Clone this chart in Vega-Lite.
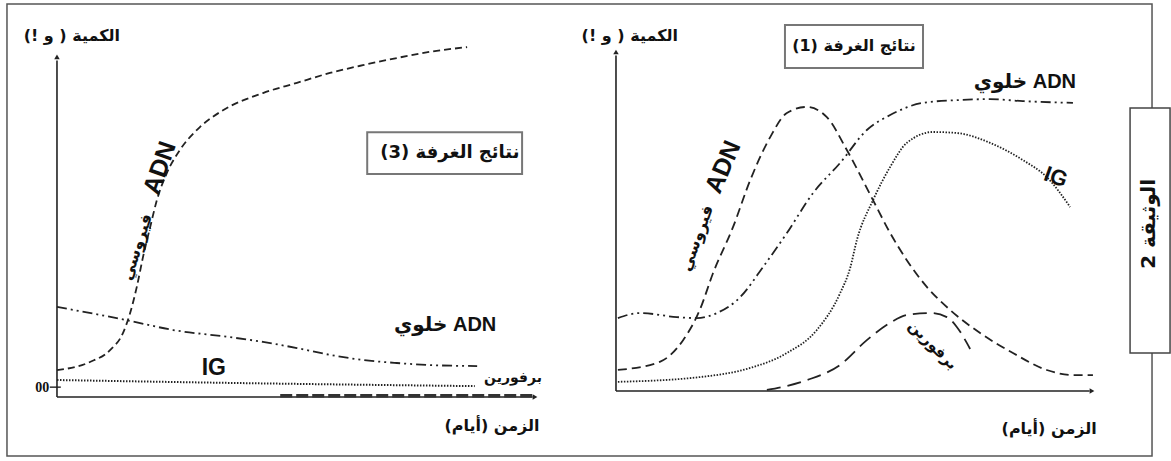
{
"$schema": "https://vega.github.io/schema/vega-lite/v6.json",
"width": 1171, "height": 461, "padding": 0, "autosize": {"type": "none"},
"background": "white",
"config": {"view": {"stroke": null}},
"datasets": {"curves": [
{"panel":"L","series":"viral","t":0,"q":7.9},{"panel":"L","series":"viral","t":6.9,"q":10.3},{"panel":"L","series":"viral","t":11.1,"q":13.8},{"panel":"L","series":"viral","t":13.8,"q":18.8},{"panel":"L","series":"viral","t":15.3,"q":24.7},{"panel":"L","series":"viral","t":16.7,"q":32.4},{"panel":"L","series":"viral","t":18.0,"q":41.2},{"panel":"L","series":"viral","t":19.5,"q":50.0},{"panel":"L","series":"viral","t":20.9,"q":57.9},{"panel":"L","series":"viral","t":23.0,"q":65.9},{"panel":"L","series":"viral","t":25.7,"q":72.6},{"panel":"L","series":"viral","t":29.9,"q":79.4},{"panel":"L","series":"viral","t":34.1,"q":83.8},{"panel":"L","series":"viral","t":43.1,"q":89.4},{"panel":"L","series":"viral","t":50.2,"q":92.4},{"panel":"L","series":"viral","t":57.1,"q":95.3},{"panel":"L","series":"viral","t":64.0,"q":97.6},{"panel":"L","series":"viral","t":71.1,"q":99.7},{"panel":"L","series":"viral","t":78.0,"q":101.5},{"panel":"L","series":"viral","t":85.8,"q":102.9},
{"panel":"L","series":"cell","t":0,"q":26.5},{"panel":"L","series":"cell","t":14.6,"q":22.6},{"panel":"L","series":"cell","t":24.3,"q":19.7},{"panel":"L","series":"cell","t":36.2,"q":17.6},{"panel":"L","series":"cell","t":43.1,"q":16.2},{"panel":"L","series":"cell","t":50.2,"q":14.4},{"panel":"L","series":"cell","t":57.1,"q":12.4},{"panel":"L","series":"cell","t":64.0,"q":10.9},{"panel":"L","series":"cell","t":71.1,"q":10.0},{"panel":"L","series":"cell","t":78.0,"q":9.4},{"panel":"L","series":"cell","t":87.9,"q":9.1},
{"panel":"L","series":"IG","t":0,"q":5.0},{"panel":"L","series":"IG","t":38.3,"q":4.1},{"panel":"L","series":"IG","t":87.4,"q":3.2},
{"panel":"L","series":"perf","t":46.7,"q":0.4},{"panel":"L","series":"perf","t":99.4,"q":0.4},
{"panel":"R","series":"viral","t":0.4,"q":6.2},{"panel":"R","series":"viral","t":9.2,"q":8.6},{"panel":"R","series":"viral","t":14.1,"q":15.0},{"panel":"R","series":"viral","t":17.6,"q":23.9},{"panel":"R","series":"viral","t":20.4,"q":34.8},{"panel":"R","series":"viral","t":24.6,"q":48.4},{"panel":"R","series":"viral","t":28.2,"q":62.2},{"panel":"R","series":"viral","t":32.4,"q":74.9},{"panel":"R","series":"viral","t":35.9,"q":82.0},{"panel":"R","series":"viral","t":40.1,"q":83.8},{"panel":"R","series":"viral","t":44.3,"q":80.8},{"panel":"R","series":"viral","t":48.5,"q":71.1},{"panel":"R","series":"viral","t":54.0,"q":56.3},{"panel":"R","series":"viral","t":57.6,"q":46.6},{"panel":"R","series":"viral","t":61.1,"q":38.6},{"panel":"R","series":"viral","t":65.3,"q":30.7},{"panel":"R","series":"viral","t":70.2,"q":23.9},{"panel":"R","series":"viral","t":76.5,"q":17.1},{"panel":"R","series":"viral","t":83.4,"q":11.2},{"panel":"R","series":"viral","t":90.5,"q":6.2},{"panel":"R","series":"viral","t":96.0,"q":4.7},{"panel":"R","series":"viral","t":100.2,"q":4.7},
{"panel":"R","series":"cell","t":0.4,"q":21.5},{"panel":"R","series":"cell","t":5.0,"q":23.0},{"panel":"R","series":"cell","t":12.8,"q":21.8},{"panel":"R","series":"cell","t":17.0,"q":21.5},{"panel":"R","series":"cell","t":21.2,"q":23.0},{"panel":"R","series":"cell","t":26.1,"q":27.7},{"panel":"R","series":"cell","t":30.9,"q":36.6},{"panel":"R","series":"cell","t":35.9,"q":46.6},{"panel":"R","series":"cell","t":41.4,"q":58.4},{"panel":"R","series":"cell","t":47.1,"q":67.3},{"panel":"R","series":"cell","t":52.7,"q":77.0},{"panel":"R","series":"cell","t":57.6,"q":81.4},{"panel":"R","series":"cell","t":64.5,"q":85.0},{"panel":"R","series":"cell","t":71.6,"q":85.8},{"panel":"R","series":"cell","t":78.6,"q":86.1},{"panel":"R","series":"cell","t":85.5,"q":85.5},{"panel":"R","series":"cell","t":96.0,"q":85.0},
{"panel":"R","series":"IG","t":0.4,"q":2.7},{"panel":"R","series":"IG","t":17.6,"q":4.1},{"panel":"R","series":"IG","t":28.2,"q":6.8},{"panel":"R","series":"IG","t":35.9,"q":11.2},{"panel":"R","series":"IG","t":42.2,"q":18.0},{"panel":"R","series":"IG","t":47.1,"q":28.9},{"panel":"R","series":"IG","t":49.2,"q":36.3},{"panel":"R","series":"IG","t":50.6,"q":44.5},{"panel":"R","series":"IG","t":54.0,"q":56.3},{"panel":"R","series":"IG","t":57.6,"q":66.1},{"panel":"R","series":"IG","t":61.1,"q":73.2},{"panel":"R","series":"IG","t":66.6,"q":76.4},{"panel":"R","series":"IG","t":71.6,"q":76.1},{"panel":"R","series":"IG","t":78.6,"q":73.2},{"panel":"R","series":"IG","t":85.5,"q":68.1},{"panel":"R","series":"IG","t":90.5,"q":63.1},{"panel":"R","series":"IG","t":95.4,"q":54.3},
{"panel":"R","series":"perf","t":31.7,"q":0.3},{"panel":"R","series":"perf","t":40.1,"q":3.2},{"panel":"R","series":"perf","t":47.1,"q":7.7},{"panel":"R","series":"perf","t":52.7,"q":15.0},{"panel":"R","series":"perf","t":57.6,"q":20.1},{"panel":"R","series":"perf","t":61.1,"q":22.4},{"panel":"R","series":"perf","t":66.0,"q":23.0},{"panel":"R","series":"perf","t":69.5,"q":21.8},{"panel":"R","series":"perf","t":71.6,"q":18.9},{"panel":"R","series":"perf","t":73.7,"q":14.2},{"panel":"R","series":"perf","t":74.4,"q":12.4}
]},
"layer": [
{
"layer": [
{"data":{"values":[{}]},"mark":{"type":"rect","fill":"transparent","stroke":"#555","strokeWidth":1.5},
 "encoding":{"x":{"datum":-10.46,"type":"quantitative","scale":{"domain":[-11.92,233.05],"nice":false,"zero":false},"axis":null},"x2":{"datum":229.08},
 "y":{"datum":115.6,"type":"quantitative","scale":{"domain":[-18.82,116.76],"nice":false,"zero":false},"axis":null},"y2":{"datum":-17.35}}},
{"data":{"values":[{}]},"mark":{"type":"rule","stroke":"#222","strokeWidth":1.6},
 "encoding":{"x":{"datum":0,"type":"quantitative","scale":{"domain":[-11.92,233.05],"nice":false,"zero":false},"axis":null},
 "y":{"datum":0,"type":"quantitative","scale":{"domain":[-18.82,116.76],"nice":false,"zero":false},"axis":null},"y2":{"datum":99}}},
{"data":{"values":[{}]},"mark":{"type":"rule","stroke":"#222","strokeWidth":1.6},
 "encoding":{"x":{"datum":0,"type":"quantitative","scale":{"domain":[-11.92,233.05],"nice":false,"zero":false},"axis":null},"x2":{"datum":99.5},
 "y":{"datum":0,"type":"quantitative","scale":{"domain":[-18.82,116.76],"nice":false,"zero":false},"axis":null}}},
{"data":{"values":[{}]},"mark":{"type":"rule","stroke":"#222","strokeWidth":1.4},
 "encoding":{"x":{"datum":-1.5,"type":"quantitative","scale":{"domain":[-11.92,233.05],"nice":false,"zero":false},"axis":null},"x2":{"datum":0.8},
 "y":{"datum":2.9,"type":"quantitative","scale":{"domain":[-18.82,116.76],"nice":false,"zero":false},"axis":null}}},
{"data":{"values":[{}]},"mark":{"type":"point","shape":"triangle-up","filled":true,"size":30,"color":"#222","opacity":1},
 "encoding":{"x":{"datum":0,"type":"quantitative","scale":{"domain":[-11.92,233.05],"nice":false,"zero":false},"axis":null},
 "y":{"datum":100,"type":"quantitative","scale":{"domain":[-18.82,116.76],"nice":false,"zero":false},"axis":null}}},
{"data":{"values":[{}]},"mark":{"type":"point","shape":"triangle-right","filled":true,"size":30,"color":"#222","opacity":1},
 "encoding":{"x":{"datum":100,"type":"quantitative","scale":{"domain":[-11.92,233.05],"nice":false,"zero":false},"axis":null},
 "y":{"datum":0,"type":"quantitative","scale":{"domain":[-18.82,116.76],"nice":false,"zero":false},"axis":null}}},
{"data":{"name":"curves"},"transform":[{"filter":"datum.panel == 'L' && datum.series == 'perf'"}],
 "mark":{"type":"line","stroke":"#333","strokeWidth":3.5,"strokeDash":[12,4]},
 "encoding":{"x":{"field":"t","type":"quantitative","scale":{"domain":[-11.92,233.05],"nice":false,"zero":false},"axis":null},
 "y":{"field":"q","type":"quantitative","scale":{"domain":[-18.82,116.76],"nice":false,"zero":false},"axis":null}}},
{"data":{"name":"curves"},"transform":[{"filter":"datum.panel == 'L' && datum.series == 'viral'"}],
 "mark":{"type":"line","interpolate":"monotone","stroke":"#222","strokeWidth":1.8,"strokeDash":[7,4]},
 "encoding":{"x":{"field":"t","type":"quantitative","scale":{"domain":[-11.92,233.05],"nice":false,"zero":false},"axis":null},
 "y":{"field":"q","type":"quantitative","scale":{"domain":[-18.82,116.76],"nice":false,"zero":false},"axis":null}}},
{"data":{"name":"curves"},"transform":[{"filter":"datum.panel == 'L' && datum.series == 'cell'"}],
 "mark":{"type":"line","interpolate":"monotone","stroke":"#222","strokeWidth":1.8,"strokeDash":[10,4,2,4,2,4]},
 "encoding":{"x":{"field":"t","type":"quantitative","scale":{"domain":[-11.92,233.05],"nice":false,"zero":false},"axis":null},
 "y":{"field":"q","type":"quantitative","scale":{"domain":[-18.82,116.76],"nice":false,"zero":false},"axis":null}}},
{"data":{"name":"curves"},"transform":[{"filter":"datum.panel == 'L' && datum.series == 'IG'"}],
 "mark":{"type":"line","interpolate":"monotone","stroke":"#222","strokeWidth":2,"strokeDash":[1.5,1.5]},
 "encoding":{"x":{"field":"t","type":"quantitative","scale":{"domain":[-11.92,233.05],"nice":false,"zero":false},"axis":null},
 "y":{"field":"q","type":"quantitative","scale":{"domain":[-18.82,116.76],"nice":false,"zero":false},"axis":null}}},
{"data":{"values":[{}]},"mark":{"type":"rect","fill":"white","stroke":"#777","strokeWidth":2},
 "encoding":{"x":{"datum":64.9,"type":"quantitative","scale":{"domain":[-11.92,233.05],"nice":false,"zero":false},"axis":null},"x2":{"datum":97.3},
 "y":{"datum":77.9,"type":"quantitative","scale":{"domain":[-18.82,116.76],"nice":false,"zero":false},"axis":null},"y2":{"datum":65.6}}},
{"data":{"values":[{}]},"mark":{"type":"text","text":"\u202bنتائج الغرفة (3)\u202c","font":"DejaVu Sans","fontWeight":"bold","fontSize":18,"align":"center","baseline":"middle","color":"#111"},
 "encoding":{"x":{"datum":82.2,"type":"quantitative","scale":{"domain":[-11.92,233.05],"nice":false,"zero":false},"axis":null},
 "y":{"datum":71.8,"type":"quantitative","scale":{"domain":[-18.82,116.76],"nice":false,"zero":false},"axis":null}}},
{"data":{"values":[{}]},"mark":{"type":"text","text":"\u202bالكمية ( و !)\u202c","font":"DejaVu Sans","fontWeight":"bold","fontSize":16,"align":"center","baseline":"middle","color":"#111"},
 "encoding":{"x":{"datum":3.1,"type":"quantitative","scale":{"domain":[-11.92,233.05],"nice":false,"zero":false},"axis":null},
 "y":{"datum":106.2,"type":"quantitative","scale":{"domain":[-18.82,116.76],"nice":false,"zero":false},"axis":null}}},
{"data":{"values":[{}]},"mark":{"type":"text","text":"\u202bالزمن (أيام)\u202c","font":"DejaVu Sans","fontWeight":"bold","fontSize":16,"align":"center","baseline":"middle","color":"#111"},
 "encoding":{"x":{"datum":91.0,"type":"quantitative","scale":{"domain":[-11.92,233.05],"nice":false,"zero":false},"axis":null},
 "y":{"datum":-8.5,"type":"quantitative","scale":{"domain":[-18.82,116.76],"nice":false,"zero":false},"axis":null}}},
{"data":{"values":[{}]},"mark":{"type":"text","text":"00","font":"Liberation Serif","fontWeight":"bold","fontSize":14,"align":"right","baseline":"middle","color":"#111"},
 "encoding":{"x":{"datum":-1.6,"type":"quantitative","scale":{"domain":[-11.92,233.05],"nice":false,"zero":false},"axis":null},
 "y":{"datum":2.6,"type":"quantitative","scale":{"domain":[-18.82,116.76],"nice":false,"zero":false},"axis":null}}},
{"data":{"values":[{}]},"mark":{"type":"text","text":"IG","font":"Liberation Sans","fontWeight":"bold","fontSize":23,"align":"center","baseline":"middle","color":"#111"},
 "encoding":{"x":{"datum":32.8,"type":"quantitative","scale":{"domain":[-11.92,233.05],"nice":false,"zero":false},"axis":null},
 "y":{"datum":8.5,"type":"quantitative","scale":{"domain":[-18.82,116.76],"nice":false,"zero":false},"axis":null}}},
{"data":{"values":[{}]},"mark":{"type":"text","text":"\u202bADN خلوي\u202c","font":"Liberation Sans, DejaVu Sans","fontWeight":"bold","fontSize":20,"align":"center","baseline":"middle","color":"#111"},
 "encoding":{"x":{"datum":81.2,"type":"quantitative","scale":{"domain":[-11.92,233.05],"nice":false,"zero":false},"axis":null},
 "y":{"datum":21.2,"type":"quantitative","scale":{"domain":[-18.82,116.76],"nice":false,"zero":false},"axis":null}}},
{"data":{"values":[{}]},"mark":{"type":"text","text":"برفورين","font":"DejaVu Sans","fontWeight":"bold","fontSize":14,"align":"center","baseline":"middle","color":"#111"},
 "encoding":{"x":{"datum":95.4,"type":"quantitative","scale":{"domain":[-11.92,233.05],"nice":false,"zero":false},"axis":null},
 "y":{"datum":5.6,"type":"quantitative","scale":{"domain":[-18.82,116.76],"nice":false,"zero":false},"axis":null}}},
{"data":{"values":[{}]},"mark":{"type":"text","text":"ADN","angle":289,"font":"Liberation Sans","fontWeight":"bold","fontSize":25,"align":"center","baseline":"middle","color":"#111"},
 "encoding":{"x":{"datum":21.5,"type":"quantitative","scale":{"domain":[-11.92,233.05],"nice":false,"zero":false},"axis":null},
 "y":{"datum":67.4,"type":"quantitative","scale":{"domain":[-18.82,116.76],"nice":false,"zero":false},"axis":null}}},
{"data":{"values":[{}]},"mark":{"type":"text","text":"فيروسي","angle":288,"font":"DejaVu Sans","fontWeight":"bold","fontSize":16,"align":"center","baseline":"middle","color":"#111"},
 "encoding":{"x":{"datum":16.7,"type":"quantitative","scale":{"domain":[-11.92,233.05],"nice":false,"zero":false},"axis":null},
 "y":{"datum":44.1,"type":"quantitative","scale":{"domain":[-18.82,116.76],"nice":false,"zero":false},"axis":null}}}
]
},
{
"layer": [
{"data":{"values":[{}]},"mark":{"type":"rule","stroke":"#222","strokeWidth":1.6},
 "encoding":{"x":{"datum":0,"type":"quantitative","scale":{"domain":[-129.41,116.6],"nice":false,"zero":false},"axis":null},
 "y":{"datum":0,"type":"quantitative","scale":{"domain":[-20.65,115.34],"nice":false,"zero":false},"axis":null},"y2":{"datum":99}}},
{"data":{"values":[{}]},"mark":{"type":"rule","stroke":"#222","strokeWidth":1.6},
 "encoding":{"x":{"datum":0,"type":"quantitative","scale":{"domain":[-129.41,116.6],"nice":false,"zero":false},"axis":null},"x2":{"datum":99.5},
 "y":{"datum":0,"type":"quantitative","scale":{"domain":[-20.65,115.34],"nice":false,"zero":false},"axis":null}}},
{"data":{"values":[{}]},"mark":{"type":"point","shape":"triangle-up","filled":true,"size":30,"color":"#222","opacity":1},
 "encoding":{"x":{"datum":0,"type":"quantitative","scale":{"domain":[-129.41,116.6],"nice":false,"zero":false},"axis":null},
 "y":{"datum":100,"type":"quantitative","scale":{"domain":[-20.65,115.34],"nice":false,"zero":false},"axis":null}}},
{"data":{"values":[{}]},"mark":{"type":"point","shape":"triangle-right","filled":true,"size":30,"color":"#222","opacity":1},
 "encoding":{"x":{"datum":100,"type":"quantitative","scale":{"domain":[-129.41,116.6],"nice":false,"zero":false},"axis":null},
 "y":{"datum":0,"type":"quantitative","scale":{"domain":[-20.65,115.34],"nice":false,"zero":false},"axis":null}}},
{"data":{"name":"curves"},"transform":[{"filter":"datum.panel == 'R' && datum.series == 'viral'"}],
 "mark":{"type":"line","interpolate":"monotone","stroke":"#222","strokeWidth":1.8,"strokeDash":[9,5]},
 "encoding":{"x":{"field":"t","type":"quantitative","scale":{"domain":[-129.41,116.6],"nice":false,"zero":false},"axis":null},
 "y":{"field":"q","type":"quantitative","scale":{"domain":[-20.65,115.34],"nice":false,"zero":false},"axis":null}}},
{"data":{"name":"curves"},"transform":[{"filter":"datum.panel == 'R' && datum.series == 'cell'"}],
 "mark":{"type":"line","interpolate":"monotone","stroke":"#222","strokeWidth":1.8,"strokeDash":[10,4,2,4,2,4]},
 "encoding":{"x":{"field":"t","type":"quantitative","scale":{"domain":[-129.41,116.6],"nice":false,"zero":false},"axis":null},
 "y":{"field":"q","type":"quantitative","scale":{"domain":[-20.65,115.34],"nice":false,"zero":false},"axis":null}}},
{"data":{"name":"curves"},"transform":[{"filter":"datum.panel == 'R' && datum.series == 'IG'"}],
 "mark":{"type":"line","interpolate":"monotone","stroke":"#222","strokeWidth":1.8,"strokeDash":[1.5,1.5]},
 "encoding":{"x":{"field":"t","type":"quantitative","scale":{"domain":[-129.41,116.6],"nice":false,"zero":false},"axis":null},
 "y":{"field":"q","type":"quantitative","scale":{"domain":[-20.65,115.34],"nice":false,"zero":false},"axis":null}}},
{"data":{"name":"curves"},"transform":[{"filter":"datum.panel == 'R' && datum.series == 'perf'"}],
 "mark":{"type":"line","interpolate":"monotone","stroke":"#222","strokeWidth":1.8,"strokeDash":[14,7]},
 "encoding":{"x":{"field":"t","type":"quantitative","scale":{"domain":[-129.41,116.6],"nice":false,"zero":false},"axis":null},
 "y":{"field":"q","type":"quantitative","scale":{"domain":[-20.65,115.34],"nice":false,"zero":false},"axis":null}}},
{"data":{"values":[{}]},"mark":{"type":"rect","fill":"white","stroke":"#777","strokeWidth":2},
 "encoding":{"x":{"datum":35.5,"type":"quantitative","scale":{"domain":[-129.41,116.6],"nice":false,"zero":false},"axis":null},"x2":{"datum":64.5},
 "y":{"datum":108.0,"type":"quantitative","scale":{"domain":[-20.65,115.34],"nice":false,"zero":false},"axis":null},"y2":{"datum":95.3}}},
{"data":{"values":[{}]},"mark":{"type":"text","text":"\u202bنتائج الغرفة (1)\u202c","font":"DejaVu Sans","fontWeight":"bold","fontSize":16,"align":"center","baseline":"middle","color":"#111"},
 "encoding":{"x":{"datum":50.0,"type":"quantitative","scale":{"domain":[-129.41,116.6],"nice":false,"zero":false},"axis":null},
 "y":{"datum":101.8,"type":"quantitative","scale":{"domain":[-20.65,115.34],"nice":false,"zero":false},"axis":null}}},
{"data":{"values":[{}]},"mark":{"type":"text","text":"\u202bالكمية ( و !)\u202c","font":"DejaVu Sans","fontWeight":"bold","fontSize":16,"align":"center","baseline":"middle","color":"#111"},
 "encoding":{"x":{"datum":2.9,"type":"quantitative","scale":{"domain":[-129.41,116.6],"nice":false,"zero":false},"axis":null},
 "y":{"datum":104.7,"type":"quantitative","scale":{"domain":[-20.65,115.34],"nice":false,"zero":false},"axis":null}}},
{"data":{"values":[{}]},"mark":{"type":"text","text":"\u202bالزمن (أيام)\u202c","font":"DejaVu Sans","fontWeight":"bold","fontSize":16,"align":"center","baseline":"middle","color":"#111"},
 "encoding":{"x":{"datum":91.0,"type":"quantitative","scale":{"domain":[-129.41,116.6],"nice":false,"zero":false},"axis":null},
 "y":{"datum":-11.2,"type":"quantitative","scale":{"domain":[-20.65,115.34],"nice":false,"zero":false},"axis":null}}},
{"data":{"values":[{}]},"mark":{"type":"text","text":"\u202bADN خلوي\u202c","font":"Liberation Sans, DejaVu Sans","fontWeight":"bold","fontSize":20,"align":"center","baseline":"middle","color":"#111"},
 "encoding":{"x":{"datum":85.9,"type":"quantitative","scale":{"domain":[-129.41,116.6],"nice":false,"zero":false},"axis":null},
 "y":{"datum":91.2,"type":"quantitative","scale":{"domain":[-20.65,115.34],"nice":false,"zero":false},"axis":null}}},
{"data":{"values":[{}]},"mark":{"type":"text","text":"IG","angle":20,"font":"Liberation Sans","fontWeight":"bold","fontSize":22,"align":"center","baseline":"middle","color":"#111"},
 "encoding":{"x":{"datum":92.4,"type":"quantitative","scale":{"domain":[-129.41,116.6],"nice":false,"zero":false},"axis":null},
 "y":{"datum":63.1,"type":"quantitative","scale":{"domain":[-20.65,115.34],"nice":false,"zero":false},"axis":null}}},
{"data":{"values":[{}]},"mark":{"type":"text","text":"برفورين","angle":45,"font":"DejaVu Sans","fontWeight":"bold","fontSize":15,"align":"center","baseline":"middle","color":"#111"},
 "encoding":{"x":{"datum":66.6,"type":"quantitative","scale":{"domain":[-129.41,116.6],"nice":false,"zero":false},"axis":null},
 "y":{"datum":13.6,"type":"quantitative","scale":{"domain":[-20.65,115.34],"nice":false,"zero":false},"axis":null}}},
{"data":{"values":[{}]},"mark":{"type":"text","text":"ADN","angle":293,"font":"Liberation Sans","fontWeight":"bold","fontSize":25,"align":"center","baseline":"middle","color":"#111"},
 "encoding":{"x":{"datum":22.5,"type":"quantitative","scale":{"domain":[-129.41,116.6],"nice":false,"zero":false},"axis":null},
 "y":{"datum":66.1,"type":"quantitative","scale":{"domain":[-20.65,115.34],"nice":false,"zero":false},"axis":null}}},
{"data":{"values":[{}]},"mark":{"type":"text","text":"فيروسي","angle":290,"font":"DejaVu Sans","fontWeight":"bold","fontSize":16,"align":"center","baseline":"middle","color":"#111"},
 "encoding":{"x":{"datum":17.0,"type":"quantitative","scale":{"domain":[-129.41,116.6],"nice":false,"zero":false},"axis":null},
 "y":{"datum":45.1,"type":"quantitative","scale":{"domain":[-20.65,115.34],"nice":false,"zero":false},"axis":null}}},
{"data":{"values":[{}]},"mark":{"type":"rect","fill":"white","stroke":"#444","strokeWidth":1.5},
 "encoding":{"x":{"datum":108.0,"type":"quantitative","scale":{"domain":[-129.41,116.6],"nice":false,"zero":false},"axis":null},"x2":{"datum":116.4},
 "y":{"datum":83.5,"type":"quantitative","scale":{"domain":[-20.65,115.34],"nice":false,"zero":false},"axis":null},"y2":{"datum":11.2}}},
{"data":{"values":[{}]},"mark":{"type":"text","text":"\u202bالوثيقة 2\u202c","angle":270,"font":"DejaVu Sans","fontWeight":"bold","fontSize":20,"align":"center","baseline":"middle","color":"#111"},
 "encoding":{"x":{"datum":112.0,"type":"quantitative","scale":{"domain":[-129.41,116.6],"nice":false,"zero":false},"axis":null},
 "y":{"datum":49.3,"type":"quantitative","scale":{"domain":[-20.65,115.34],"nice":false,"zero":false},"axis":null}}}
]
}
],
"resolve": {"scale": {"x": "independent", "y": "independent"}}
}
